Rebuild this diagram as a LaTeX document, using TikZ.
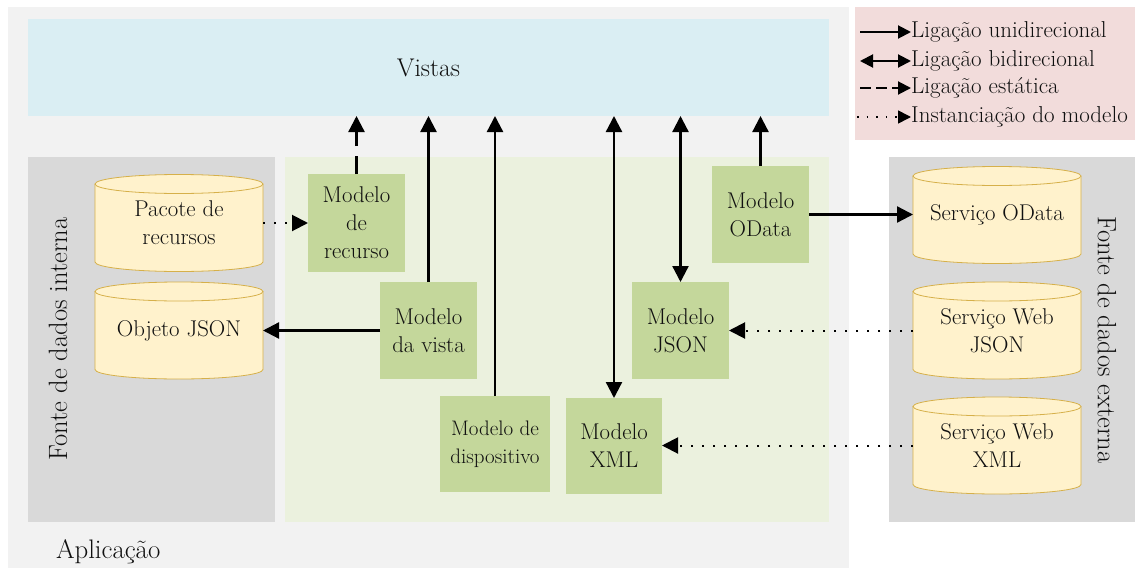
\documentclass[tikz,border=0pt]{standalone}
\usepackage{fontspec}
\usetikzlibrary{arrows.meta,calc}

\definecolor{appgray}{HTML}{F2F2F2}
\definecolor{viewblue}{HTML}{DAEEF3}
\definecolor{srcgray}{HTML}{D9D9D9}
\definecolor{modelpanel}{HTML}{EBF1DE}
\definecolor{modelgreen}{HTML}{C4D79B}
\definecolor{storefill}{HTML}{FFF2CC}
\definecolor{storeline}{HTML}{D6B04A}
\definecolor{legendpink}{HTML}{F2DCDB}
\definecolor{ink}{HTML}{101010}

\pgfdeclarelayer{panels}
\pgfdeclarelayer{stores}
\pgfsetlayers{panels,stores,main}

% cylinder outline drawn behind a named data-store node
\newcommand{\storeshape}[1]{%
  \begin{pgfonlayer}{stores}
    \filldraw[store] ($(#1.north west)+(0,9.5)$) -- ($(#1.south west)+(0,-9.5)$)
      arc[start angle=180,end angle=360,x radius=84pt,y radius=9.5pt]
      -- ($(#1.north east)+(0,9.5)$);
    \filldraw[store] ($(#1.north)+(0,9.5)$) ellipse[x radius=84pt,y radius=9.5pt];
  \end{pgfonlayer}}

\tikzset{
  panel/.style={inner sep=0pt, outer sep=0pt, text=ink},
  bodyfont/.style={font=\fontsize{22.8}{28}\selectfont},
  model/.style={bodyfont, fill=modelgreen, inner sep=0pt, outer sep=0pt, align=center,
    text=ink, minimum width=97pt, minimum height=97pt},
  store/.style={fill=storefill, draw=storeline, line width=0.8pt},
  storenode/.style={bodyfont, inner sep=0pt, outer sep=0pt, align=center, text=ink,
    minimum width=168pt, minimum height=97pt},
  tip/.style={-{Triangle[length=16pt,width=16pt]}},
  link/.style={draw=black, line width=2.3pt, tip},
  bilink/.style={draw=black, line width=2.3pt,
    {Triangle[length=16pt,width=16pt]}-{Triangle[length=16pt,width=16pt]}},
  staticlink/.style={link, dash pattern=on 18pt off 10pt},
  instlink/.style={link, line width=2pt, dash pattern=on 2pt off 9pt},
  keylink/.style={draw=black, line width=2pt, -{Triangle[length=13pt,width=13pt]}},
  keytext/.style={font=\fontsize{23}{28}\selectfont, inner sep=0pt, anchor=base west, text=ink},
}

\begin{document}
\begin{tikzpicture}[x=1pt,y=-1pt]
\useasboundingbox (0,0) rectangle (1135,570);

% containers
\begin{pgfonlayer}{panels}
  \fill[white] (0,0) rectangle (1135,570);
  \node[panel, fill=appgray, minimum width=841pt, minimum height=561pt] (app) at (428.5,287.5) {};
  \node[panel, fill=viewblue, minimum width=801pt, minimum height=97pt,
        font=\fontsize{25.6}{28}\selectfont] (vistas) at (428.5,67.5) {Vistas};
  \node[panel, fill=srcgray, minimum width=247pt, minimum height=365pt] (internal) at (151.5,339.5) {};
  \node[panel, fill=modelpanel, minimum width=544pt, minimum height=365pt] (models) at (557,339.5) {};
  \node[panel, fill=srcgray, minimum width=246pt, minimum height=365pt] (external) at (1012,339.5) {};
  \node[panel, fill=legendpink, minimum width=280pt, minimum height=133pt] (legend) at (995,73.5) {};
\end{pgfonlayer}

% container labels
\node[panel, rotate=90, font=\fontsize{26.5}{28}\selectfont] (intlabel) at (58,339) {Fonte de dados interna};
\node[panel, rotate=-90, font=\fontsize{26.5}{28}\selectfont] (extlabel) at (1107,340) {Fonte de dados externa};
\node[panel, anchor=base west, font=\fontsize{26.8}{28}\selectfont] (applabel) at (56,558) {Aplicação};

% data stores
\node[storenode] (pacote) at (179,223) {Pacote de\\recursos};
\node[storenode] (objeto) at (179,330.5) {Objeto JSON};
\node[storenode] (sodata) at (997,215) {Serviço OData};
\node[storenode] (swjson) at (997,330.5) {Serviço Web\\JSON};
\node[storenode] (swxml) at (997,445.5) {Serviço Web\\XML};
\storeshape{pacote}
\storeshape{objeto}
\storeshape{sodata}
\storeshape{swjson}
\storeshape{swxml}

% models
\node[model, minimum height=98pt] (mrecurso) at (356.5,223) {Modelo\\de\\recurso};
\node[model] (mvista) at (428.5,330.5) {Modelo\\da vista};
\node[model, minimum width=110pt, minimum height=96pt, font=\fontsize{21}{28}\selectfont] (mdisp) at (495,444) {Modelo de\\dispositivo};
\node[model, minimum width=96pt, minimum height=96pt] (mxml) at (614,446) {Modelo\\XML};
\node[model] (mjson) at (680.5,330.5) {Modelo\\JSON};
\node[model] (modata) at (760.5,214.5) {Modelo\\OData};

% bindings to the views
\draw[staticlink] (mrecurso.north) -- (mrecurso.north |- vistas.south);
\draw[link] (mvista.north) -- (mvista.north |- vistas.south);
\draw[link] (mdisp.north) -- (mdisp.north |- vistas.south);
\draw[bilink] (mxml.north) -- (mxml.north |- vistas.south);
\draw[bilink] (mjson.north) -- (mjson.north |- vistas.south);
\draw[link] (modata.north) -- (modata.north |- vistas.south);

% model to data source connections
\draw[link] (mvista.west) -- (mvista.west -| objeto.east);
\draw[link] (modata.east) -- (modata.east -| sodata.west);
\draw[instlink] (pacote.east) -- (pacote.east -| mrecurso.west);
\draw[instlink] (swjson.west) -- (swjson.west -| mjson.east);
\draw[instlink] (swxml.west) -- (swxml.west -| mxml.east);

% key
\node[keytext] (k1) at (911,37.5) {Ligação unidirecional};
\node[keytext] (k2) at (911,66.5) {Ligação bidirecional};
\node[keytext] (k3) at (911,93.5) {Ligação estática};
\node[keytext] (k4) at (911,122.5) {Instanciação do modelo};
\coordinate (k1s) at (860,32);
\coordinate (k2s) at (860,61);
\coordinate (k3s) at (860,88);
\coordinate (k4s) at (857,117);
\draw[keylink] (k1s) -- (k1s -| k1.west);
\draw[keylink, {Triangle[length=13pt,width=13pt]}-{Triangle[length=13pt,width=13pt]}] (k2s) -- (k2s -| k2.west);
\draw[keylink, dash pattern=on 11pt off 5pt] (k3s) -- (k3s -| k3.west);
\draw[keylink, line width=1.6pt, dash pattern=on 1.6pt off 8pt] (k4s) -- (k4s -| k4.west);
\end{tikzpicture}
\end{document}
